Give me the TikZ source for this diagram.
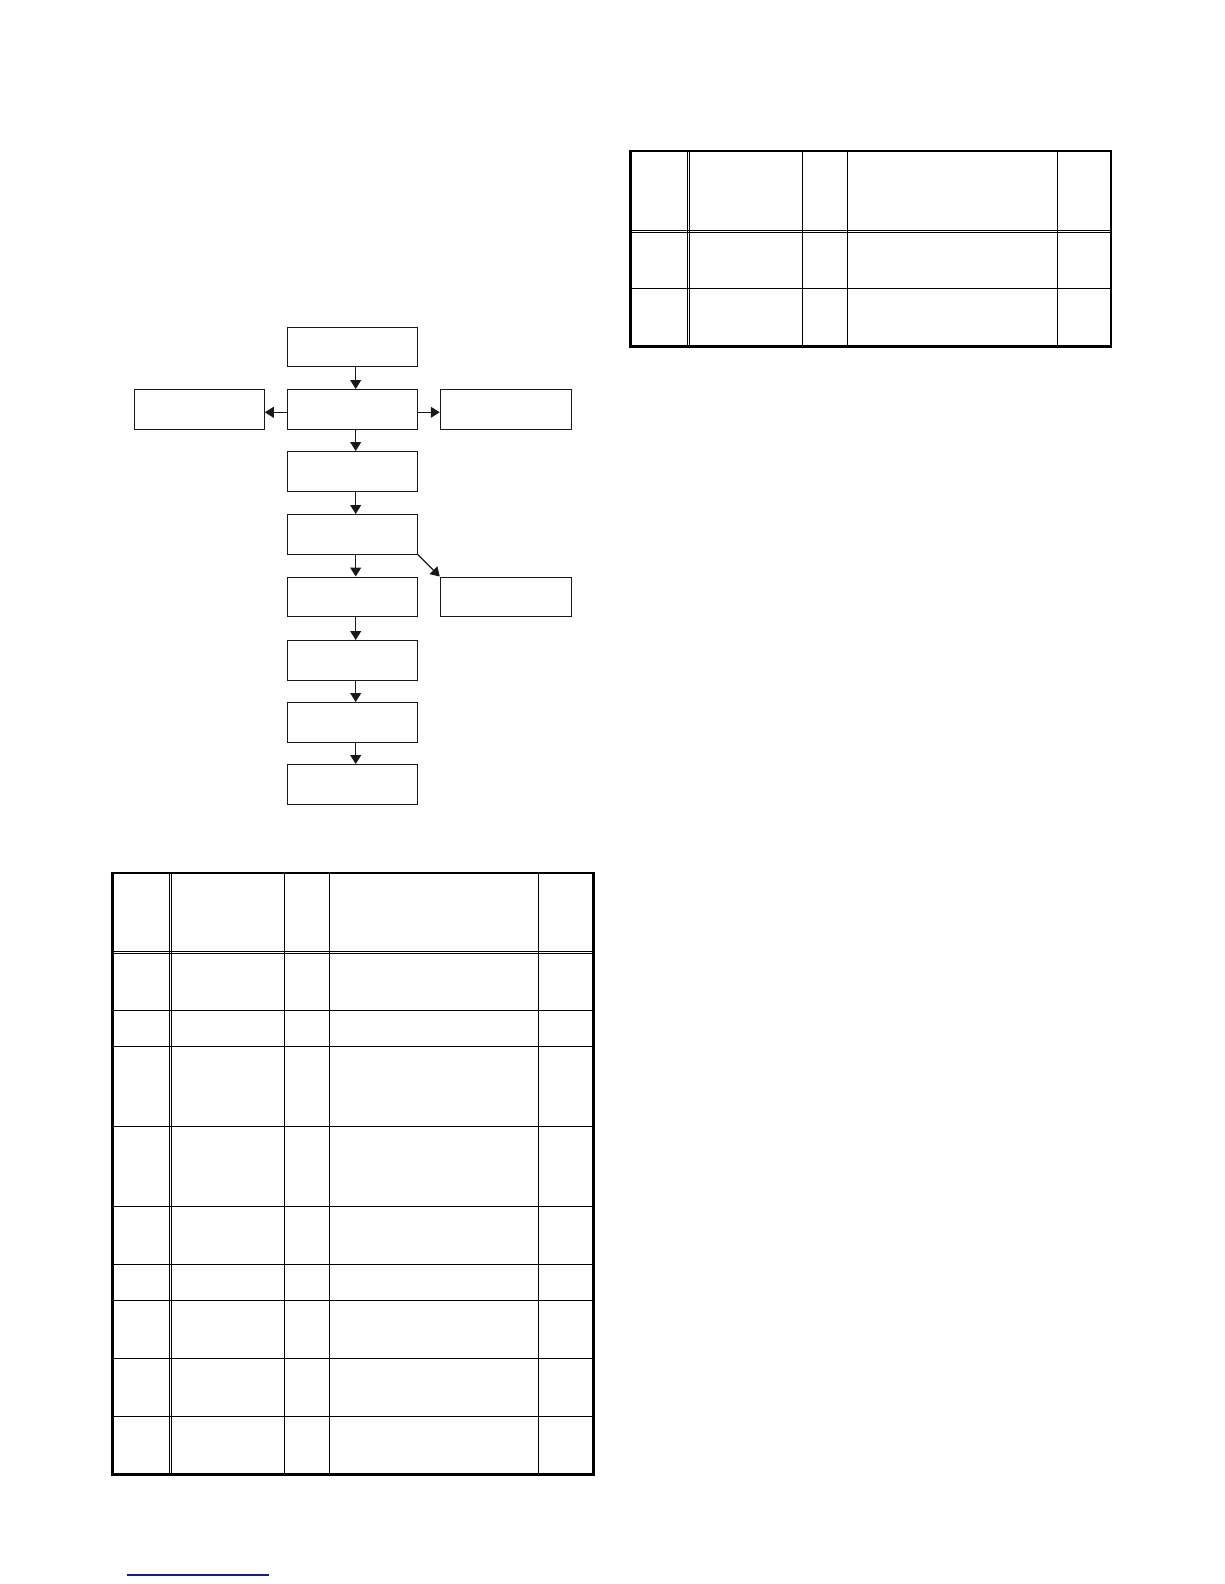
\documentclass[tikz,border=0pt]{standalone}
\usetikzlibrary{arrows.meta}
\begin{document}
\begin{tikzpicture}[x=1pt,y=-1pt,
  box/.style={draw=black!90,line width=1.1pt,minimum width=130pt,minimum height=39.5pt,inner sep=0pt,fill=white},
  conn/.style={draw=black!90,line width=1.1pt,-{Triangle[length=9pt,width=11pt]}},
  outer/.style={line width=2.8pt},
  inner/.style={line width=1.6pt},
  dbl/.style={line width=1pt}]
\useasboundingbox (0,0) rectangle (1224,1584);
% ---------- flowchart ----------
\node[box] (b1) at (352.3,346.8) {};
\node[box] (b2) at (352.3,409.3) {};
\node[box] (bl) at (199.3,409.3) {};
\node[box,minimum width=131pt] (br) at (505.8,409.3) {};
\node[box] (b3) at (352.3,471.3) {};
\node[box] (b4) at (352.3,534.3) {};
\node[box] (b5) at (352.3,596.8) {};
\node[box,minimum width=131pt] (b5r) at (505.8,596.8) {};
\node[box] (b6) at (352.3,660.3) {};
\node[box] (b7) at (352.3,722.3) {};
\node[box] (b8) at (352.3,784.3) {};
\coordinate (ax) at (355.7,0);
\coordinate (ay) at (0,412.3);
\draw[conn] (b1.south -| ax) -- (b2.north -| ax);
\draw[conn] (b2.south -| ax) -- (b3.north -| ax);
\draw[conn] (b3.south -| ax) -- (b4.north -| ax);
\draw[conn] (b4.south -| ax) -- (b5.north -| ax);
\draw[conn] (b5.south -| ax) -- (b6.north -| ax);
\draw[conn] (b6.south -| ax) -- (b7.north -| ax);
\draw[conn] (b7.south -| ax) -- (b8.north -| ax);
\draw[conn] (b2.west |- ay) -- (bl.east |- ay);
\draw[conn] (b2.east |- ay) -- (br.west |- ay);
\draw[conn] (b4.south east) -- (b5r.north west);
% ---------- table 1 ----------
\foreach \y in {1010.3,1046.3,1126.3,1206.3,1264.3,1300.3,1358.3,1416.3}
  \draw[inner] (112.7,\y) -- (593.3,\y);
\foreach \x in {284.3,329.3,538.3}
  \draw[inner] (\x,873) -- (\x,1474.7);
\draw[dbl] (112.7,951.2) -- (593.3,951.2);
\draw[dbl] (112.7,953.2) -- (593.3,953.2);
\draw[dbl] (169.2,873) -- (169.2,1474.7);
\draw[dbl] (171.2,873) -- (171.2,1474.7);
\draw[outer] (112.7,873) rectangle (593.3,1474.7);
% ---------- table 2 ----------
\draw[inner] (630.7,288.3) -- (1111,288.3);
\foreach \x in {802.3,847.3,1057.3}
  \draw[inner] (\x,151) -- (\x,346.7);
\draw[dbl] (630.7,230.6) -- (1111,230.6);
\draw[dbl] (630.7,232.6) -- (1111,232.6);
\draw[dbl] (687.2,151) -- (687.2,346.7);
\draw[dbl] (689.2,151) -- (689.2,346.7);
\draw[outer] (630.7,151) rectangle (1111,346.7);
% ---------- blue rule ----------
\definecolor{navyrule}{RGB}{26,26,140}
\coordinate (ls) at (126.7,1575);
\coordinate (le) at (269,1575);
\draw[navyrule,line width=1.2pt] (ls) -- (le);
\end{tikzpicture}
\end{document}
